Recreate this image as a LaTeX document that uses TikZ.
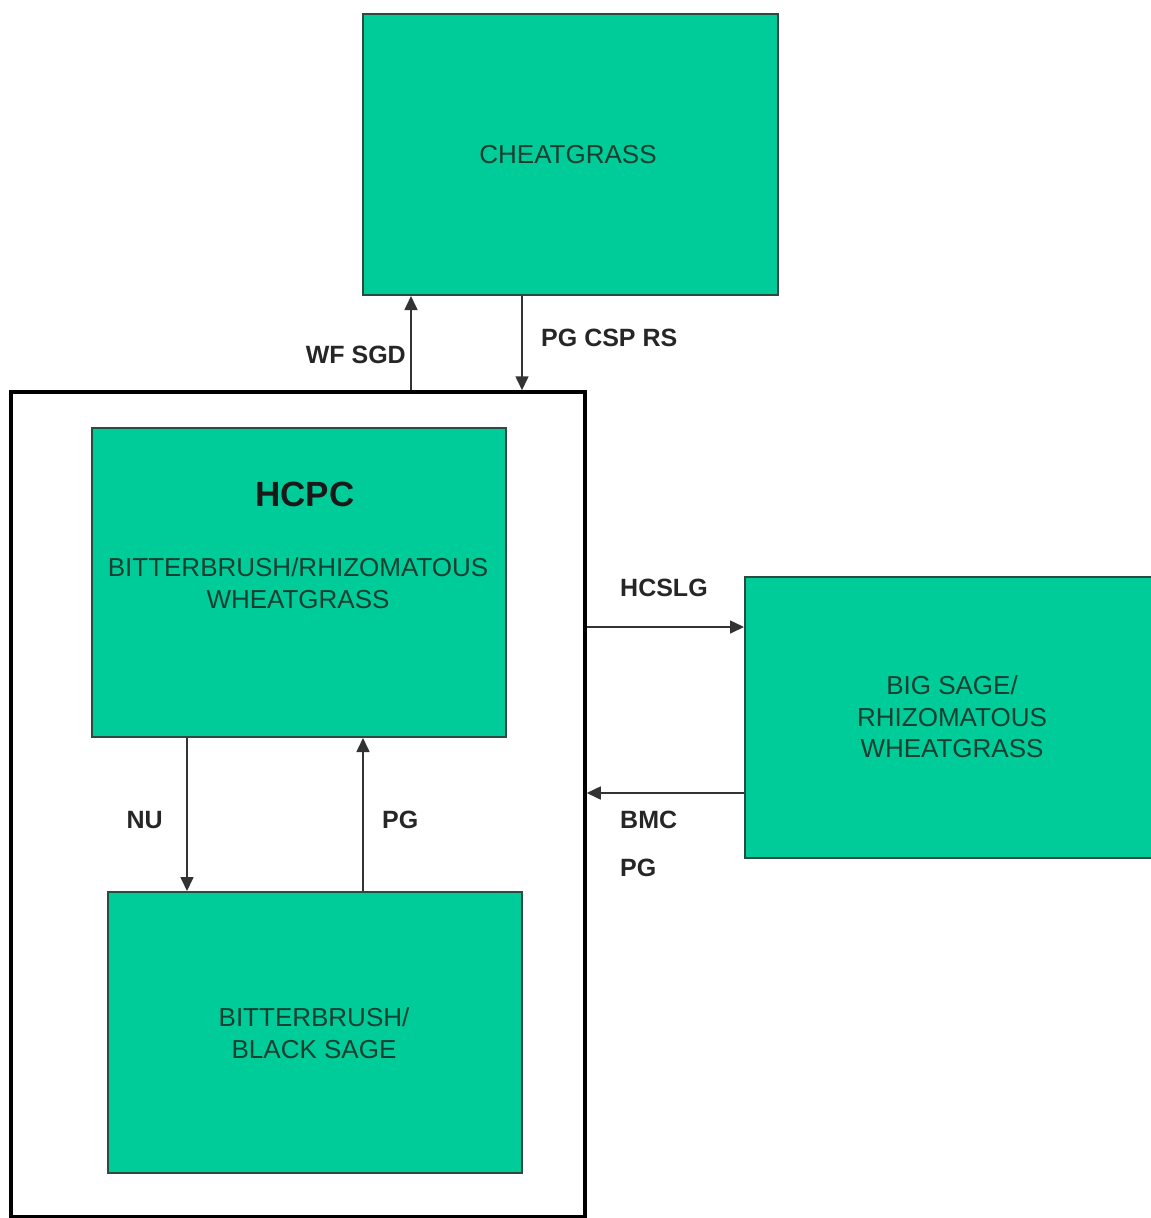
\documentclass[tikz,border=0pt]{standalone}
\usepackage{fontspec}
\setmainfont{Liberation Sans}
\usetikzlibrary{arrows.meta}
\definecolor{boxgreen}{HTML}{00CC99}
\definecolor{boxtext}{HTML}{173F31}
\definecolor{boxline}{HTML}{2B4A40}
\definecolor{arrowgrey}{HTML}{333333}
\begin{document}
\begin{tikzpicture}[x=1pt,y=-1pt,
  greenbox/.style={draw=boxline,line width=2pt,fill=boxgreen,rectangle,inner sep=0pt},
  boxlabel/.style={text=boxtext,align=center,inner sep=0pt,font=\fontsize{26}{31.5}\selectfont},
  flowlabel/.style={text=black!85,inner sep=0pt,font=\bfseries\fontsize{25}{30}\selectfont},
  arr/.style={draw=arrowgrey,line width=1.6pt,-{Triangle[length=14pt,width=13pt]}}]
\useasboundingbox (0,0) rectangle (1151,1218);
% boxes
\node[greenbox,minimum width=415pt,minimum height=281pt] (cheat) at (570.5,154.5) {};
\node[boxlabel] (cheattxt) at (568,155) {CHEATGRASS};
\node[draw=black,line width=3.5pt,rectangle,minimum width=574pt,minimum height=825pt,inner sep=0pt] (outer) at (298,804.5) {};
\node[greenbox,minimum width=414pt,minimum height=309pt] (hcpc) at (299,582.5) {};
\node[text=black!90,inner sep=0pt,font=\bfseries\fontsize{35}{40}\selectfont] (hcpctitle) at (305,494) {HCPC};
\node[boxlabel] (hcpctxt) at (298,583) {BITTERBRUSH/RHIZOMATOUS\\WHEATGRASS};
\node[greenbox,minimum width=414pt,minimum height=281pt] (bb) at (315,1032.5) {};
\node[boxlabel] (bbtxt) at (314,1033) {BITTERBRUSH/\\BLACK SAGE};
\node[greenbox,minimum width=415pt,minimum height=281pt] (big) at (952.5,717.5) {};
\node[boxlabel] (bigtxt) at (952,717) {BIG SAGE/\\RHIZOMATOUS\\WHEATGRASS};
% connectors
\draw[arr] (outer.north -| 411,0) -- (cheat.south -| 411,0);
\draw[arr] (cheat.south -| 522,0) -- (outer.north -| 522,0);
\draw[arr] (outer.east |- 0,627) -- (big.west |- 0,627);
\draw[arr] (big.west |- 0,793) -- (outer.east |- 0,793);
\draw[arr] (hcpc.south -| 187,0) -- (bb.north -| 187,0);
\draw[arr] (bb.north -| 363,0) -- (hcpc.south -| 363,0);
% labels
\node[flowlabel,anchor=east] (wfsgd) at (406,355) {WF SGD};
\node[flowlabel,anchor=west] (pgcsp) at (541,338) {PG CSP RS};
\node[flowlabel,anchor=west] (hcslg) at (620,588) {HCSLG};
\node[flowlabel,anchor=west] (bmc) at (620,820) {BMC};
\node[flowlabel,anchor=west] (pgb) at (620,868) {PG};
\node[flowlabel,anchor=east] (nu) at (163,820) {NU};
\node[flowlabel,anchor=west] (pgu) at (382,820) {PG};
\end{tikzpicture}
\end{document}
